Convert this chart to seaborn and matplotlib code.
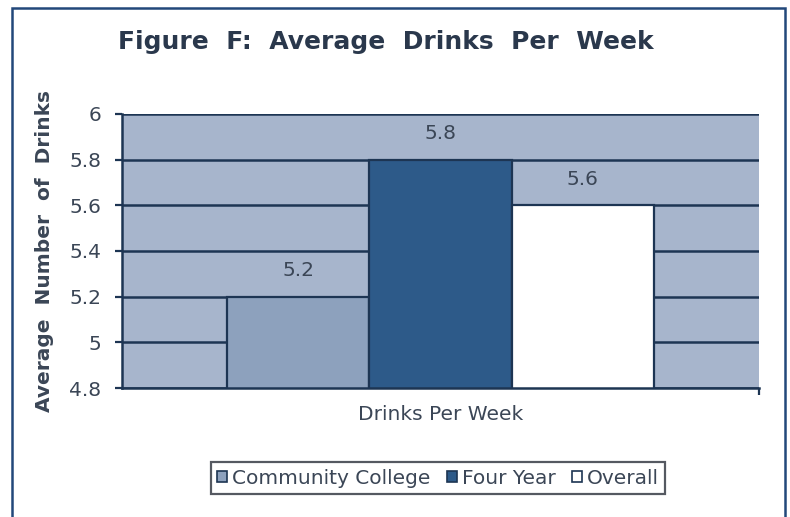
import matplotlib
matplotlib.use("Agg")
import matplotlib.pyplot as plt
from matplotlib.patches import Rectangle
from matplotlib.ticker import FixedLocator
import pandas as pd
import seaborn as sns

# Data
category = ["Drinks Per Week"]
groups = ["Community College", "Four Year", "Overall"]
values = [5.2, 5.8, 5.6]
y_ticks = [4.8, 5.0, 5.2, 5.4, 5.6, 5.8, 6.0]
y_tick_labels = ["4.8", "5", "5.2", "5.4", "5.6", "5.8", "6"]

df = pd.DataFrame({"measure": category * len(groups), "group": groups, "value": values})

sns.set_theme(style="white")
plt.rcParams["font.family"] = ["Verdana", "DejaVu Sans"]

navy = "#1d3553"
text_col = "#3b4656"
bg_col = "#a7b5cc"
palette = {"Community College": "#8da1bd", "Four Year": "#2d5a89", "Overall": "#ffffff"}

fig = plt.figure(figsize=(7.9, 5.17), dpi=100)
fig.patch.set_facecolor("white")
ax = fig.add_axes([122 / 790, 1 - 388 / 517, (759 - 122) / 790, (388 - 114) / 517])
ax.set_facecolor(bg_col)

sns.barplot(data=df, x="measure", y="value", hue="group", hue_order=groups,
            palette=palette, width=0.67, edgecolor=navy, linewidth=1.6,
            ax=ax, legend=True, saturation=1)

ax.set_ylim(4.8, 6.0)
ax.set_xlim(-0.5, 0.5)
ax.set_yticks(y_ticks)
ax.set_yticklabels(y_tick_labels, color=text_col, fontsize=14.5)
ax.set_xticks([])
ax.xaxis.set_minor_locator(FixedLocator([0.5]))
ax.tick_params(axis="x", which="minor", bottom=True, length=5, width=1.6, color=navy)
ax.tick_params(axis="y", left=True, length=5, width=1.6, color=navy, pad=10)

ax.set_axisbelow(True)
ax.yaxis.grid(True, color=navy, linewidth=1.8)
for side in ["top", "right"]:
    ax.spines[side].set_visible(False)
for side in ["left", "bottom"]:
    ax.spines[side].set_color(navy)
    ax.spines[side].set_linewidth(1.8)

for container in ax.containers:
    ax.bar_label(container, labels=[f"{v:.1f}" for v in container.datavalues],
                 padding=12, color=text_col, fontsize=14.5)

ax.set_xlabel("Drinks Per Week", color=text_col, fontsize=14.5)
ax.xaxis.set_label_coords(0.5, -(415 - 388) / 274, transform=ax.transAxes)
ax.xaxis.label.set_verticalalignment("center")
ax.set_ylabel("Average  Number  of  Drinks", color=text_col, fontsize=14.5,
              fontweight="bold")
ax.yaxis.set_label_coords(-(122 - 45) / 637, 0.5)
ax.yaxis.label.set_verticalalignment("center")

fig.text(386 / 790, 1 - 42 / 517, "Figure  F:  Average  Drinks  Per  Week",
         ha="center", va="center", fontsize=18, fontweight="bold", color="#2a384c")

leg = ax.legend(loc="center", bbox_to_anchor=(438 / 790, 1 - 478 / 517),
                bbox_transform=fig.transFigure, ncol=3, frameon=True, fancybox=False,
                fontsize=14.5, handlelength=0.5, handleheight=0.5, handletextpad=0.25,
                columnspacing=0.8, borderpad=0.3, borderaxespad=0)
leg.get_frame().set_edgecolor("#2a2f3a")
leg.get_frame().set_linewidth(1.6)
for t in leg.get_texts():
    t.set_color(text_col)
for h in leg.legend_handles:
    h.set_edgecolor(navy)
    h.set_linewidth(1.2)

fig.patches.append(Rectangle((12 / 790, -0.05), (785 - 12) / 790, 1 - 8 / 517 + 0.05,
                             transform=fig.transFigure, fill=False,
                             edgecolor="#22487a", linewidth=1.8))

fig.savefig("out.png", dpi=100)
